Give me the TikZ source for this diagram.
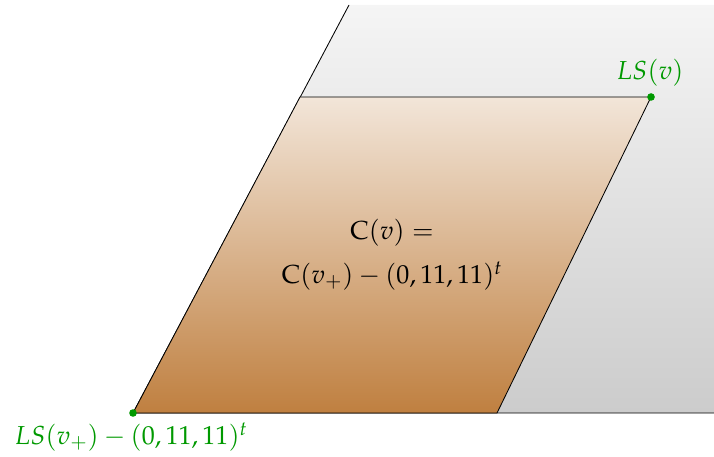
\documentclass[tikz,border=0pt]{standalone}
\usepackage{amsmath}
\usepackage{mathpazo}
\usepackage{tikz}

\begin{document}
\begin{tikzpicture}[x=0.025cm, y=-0.025cm, line width=0.6pt, every node/.style={font=\fontsize{18.5}{22}\selectfont}]
    \useasboundingbox (0,0) rectangle (714,457);
    % corner points of the cell
    \coordinate (lsvp) at (133,413);
    \coordinate (lsv) at (651,97);
    \coordinate (cellbr) at (497,413);
    \coordinate (celltl) at (300,97);
    % outer grey region
    \shade[top color=gray!8, bottom color=gray!40] (349,5) -- (714,5) -- (714,413) -- (lsvp) -- cycle;
    \draw (349,5) -- (lsvp) -- (714,413);
    % the cell itself
    \draw[top color=brown!20, bottom color=brown] (lsvp) -- (cellbr) -- (lsv) -- (celltl) -- cycle;
    \node (cv) at (392,233) {$\mathrm{C}(v) =$};
    \node (cvp) at (392,276) {$\mathrm{C}(v_+) - (0,11,11)^t$};
    % corner labels
    \fill[green!60!black] (lsv) circle (3.8);
    \fill[green!60!black] (lsvp) circle (3.8);
    \node[green!60!black] (lsvlabel) at (650,73) {$LS(v)$};
    \node[green!60!black] (lsvplabel) at (131,437) {$LS(v_+) - (0,11,11)^t$};
  \end{tikzpicture}
\end{document}
